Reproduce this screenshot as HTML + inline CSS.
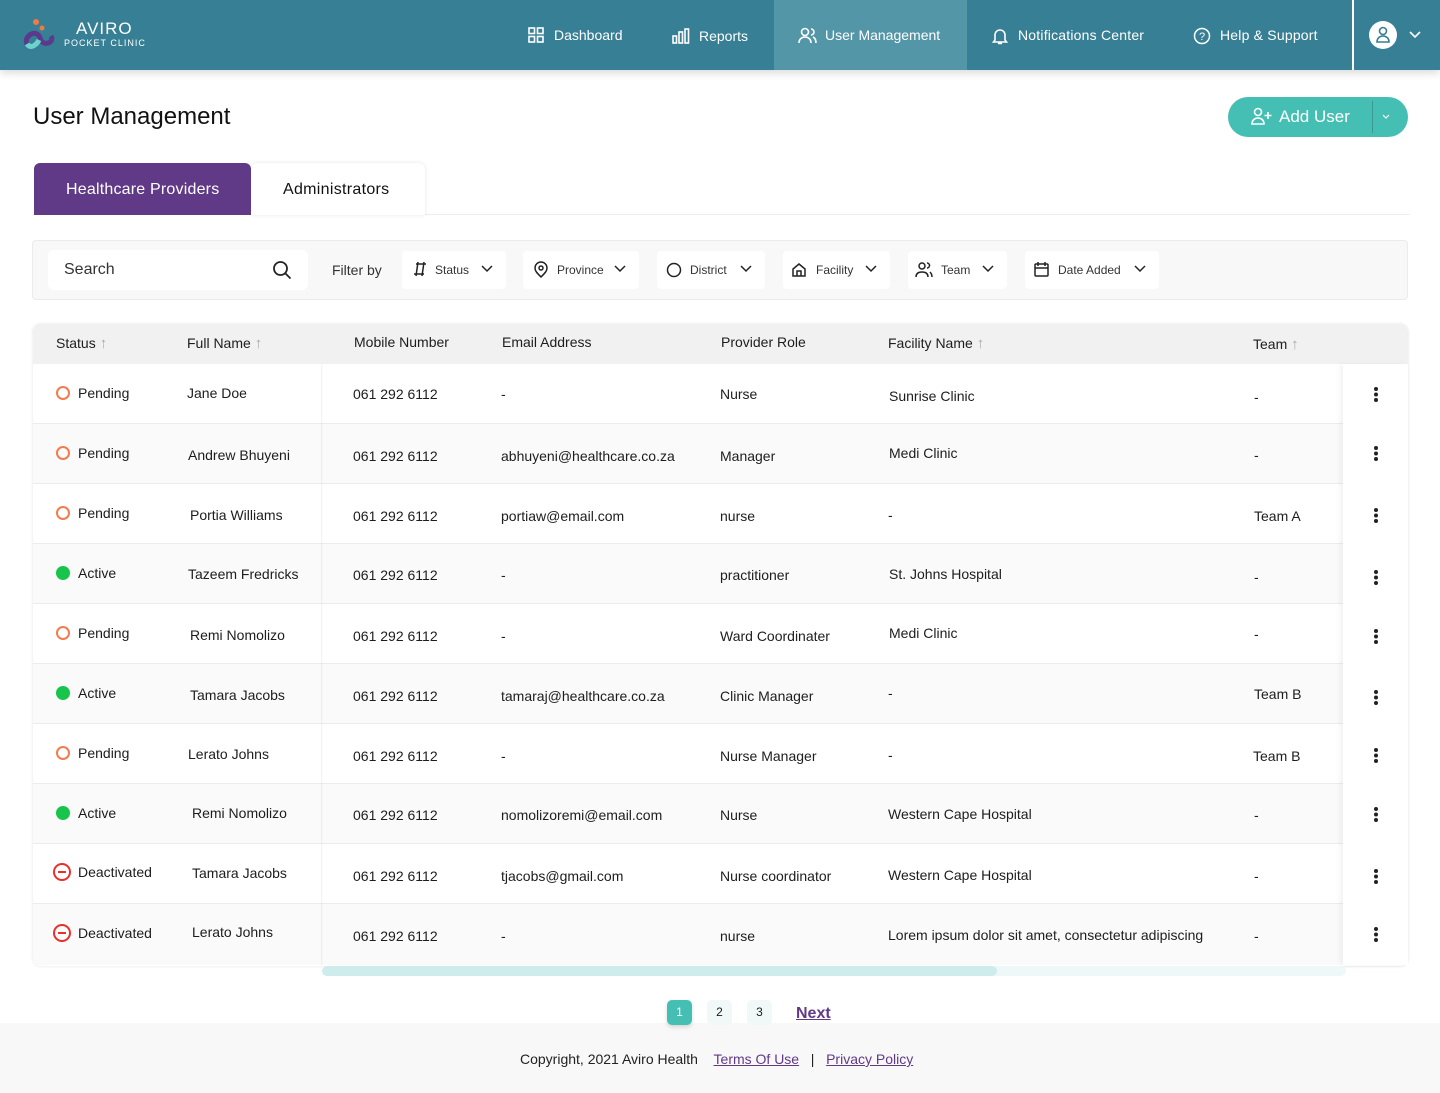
<!DOCTYPE html>
<html><head><meta charset="utf-8"><style>
*{margin:0;padding:0;box-sizing:border-box}
body{width:1440px;height:1093px;position:relative;background:#fff;font-family:"Liberation Sans",sans-serif;color:#1d1d1d;overflow:hidden}
.a{position:absolute;white-space:nowrap}
.nav{position:absolute;left:0;top:0;width:1440px;height:70px;background:#367f94;box-shadow:0 3px 8px rgba(0,0,0,.15)}
.nav .t{position:absolute;top:27px;color:#fff;font-size:14px}
.fb{position:absolute;top:251px;height:38px;background:#fff;border-radius:4px;font-size:12px;color:#333}
.row{position:absolute;left:33px;width:1375px;height:60px;border-bottom:1px solid #ececec}
.c{position:absolute;font-size:14px;white-space:nowrap;transform:translateY(-50%)}
.pg{position:absolute;top:1000px;width:25px;height:25px;border-radius:5px;font-size:12px;text-align:center;line-height:25px;background:#f0f8f8}
.ar{color:#aaa;font-size:15px}
</style></head><body>
<div class="nav">
  <svg class="a" style="left:23px;top:18px" width="34" height="32" viewBox="0 0 34 32"><path d="M4 26 C0 18 14 10 17 20 C20 30 32 24 28 18" stroke="#5b3a8c" stroke-width="5" fill="none"/><path d="M4 26 C8 32 14 26 16 22" stroke="#6fd3cd" stroke-width="5" fill="none"/><circle cx="13" cy="4" r="3" fill="#f07a45"/><circle cx="19" cy="10" r="2.5" fill="#f07a45"/></svg>
  <div class="a" style="left:76px;top:19px;color:#fff;font-size:17px;letter-spacing:1px">AVIRO</div>
  <div class="a" style="left:64px;top:38px;color:#fff;font-size:9px;letter-spacing:1px">POCKET CLINIC</div>
  <div class="a" style="left:774px;top:0;width:193px;height:70px;background:#5296a8"></div>
  <div class="a" style="left:1352px;top:0;width:2px;height:70px;background:#fff"></div>
  <svg class="a" style="left:528px;top:27px" width="16" height="16"><g fill="none" stroke="#fff" stroke-width="1.6"><rect x="1" y="1" width="5.5" height="5.5"/><rect x="9.5" y="1" width="5.5" height="5.5"/><rect x="1" y="9.5" width="5.5" height="5.5"/><rect x="9.5" y="9.5" width="5.5" height="5.5"/></g></svg>
  <div class="t" style="left:554px">Dashboard</div>
  <svg class="a" style="left:672px;top:28px" width="18" height="16"><g fill="none" stroke="#fff" stroke-width="1.6"><rect x="1" y="8" width="3.5" height="7"/><rect x="7" y="4" width="3.5" height="11"/><rect x="13" y="1" width="3.5" height="14"/></g></svg>
  <div class="t" style="left:699px;top:28px">Reports</div>
  <svg class="a" style="left:798px;top:27px" width="20" height="17"><g fill="none" stroke="#fff" stroke-width="1.6"><circle cx="7" cy="5" r="3.5"/><path d="M1 16c0-4 3-6 6-6s6 2 6 6M13 2a3 3 0 010 6M15 10c2 1 3 3 3 6"/></g></svg>
  <div class="t" style="left:825px">User Management</div>
  <svg class="a" style="left:991px;top:27px" width="18" height="18"><path d="M4 13V8a5 5 0 0110 0v5l1.5 2h-13zM7 16.5h4" fill="none" stroke="#fff" stroke-width="1.6"/></svg>
  <div class="t" style="left:1018px;letter-spacing:.2px">Notifications Center</div>
  <svg class="a" style="left:1193px;top:27px" width="18" height="18"><circle cx="9" cy="9" r="7.5" fill="none" stroke="#fff" stroke-width="1.5"/><text x="9" y="13" font-size="11" fill="#fff" text-anchor="middle" font-family="Liberation Sans">?</text></svg>
  <div class="t" style="left:1220px;letter-spacing:.2px">Help &amp; Support</div>
  <div class="a" style="left:1369px;top:21px;width:28px;height:28px;border-radius:50%;background:#fff"></div>
  <svg class="a" style="left:1375px;top:26px" width="16" height="18"><g fill="none" stroke="#367f94" stroke-width="1.6"><circle cx="8" cy="5" r="3.5"/><path d="M2 16c0-4 3-6 6-6s6 2 6 6z"/></g></svg>
  <svg class="a" style="left:1409px;top:31px" width="12" height="8"><path d="M1 1l5 5 5-5" fill="none" stroke="#fff" stroke-width="1.6"/></svg>
</div>

<div class="a" style="left:33px;top:103px;font-size:24px;color:#111">User Management</div>
<div class="a" style="left:1228px;top:97px;width:180px;height:40px;border-radius:20px;background:#45bfb4"></div>
<div class="a" style="left:1372px;top:101px;width:1px;height:32px;background:#3a9a93"></div>
<svg class="a" style="left:1251px;top:107px" width="22" height="18"><g fill="none" stroke="#fff" stroke-width="1.6"><circle cx="7" cy="5" r="3.5"/><path d="M1 17c0-4 3-6 6-6s6 2 6 6zM17 5v7M13.5 8.5h7"/></g></svg>
<div class="a" style="left:1279px;top:107px;font-size:17px;color:#fff">Add User</div>
<svg class="a" style="left:1382px;top:114px" width="8" height="6"><path d="M1 1l3 3 3-3" fill="none" stroke="#fff" stroke-width="1.2"/></svg>

<div class="a" style="left:33px;top:214px;width:1377px;height:1px;background:#eee"></div>
<div class="a" style="left:251px;top:163px;width:174px;height:52px;background:#fff;border-radius:6px 6px 0 0;box-shadow:0 0 4px rgba(0,0,0,.1)"></div>
<div class="a" style="left:34px;top:163px;width:217px;height:52px;background:#603a87;border-radius:6px 6px 0 0"></div>
<div class="a" style="left:66px;top:181px;font-size:16px;color:#fff;letter-spacing:.2px">Healthcare Providers</div>
<div class="a" style="left:283px;top:181px;font-size:16px;color:#111;letter-spacing:.3px">Administrators</div>

<div class="a" style="left:32px;top:240px;width:1376px;height:60px;background:#f8f8f8;border:1px solid #ebebeb;border-radius:4px"></div>
<div class="a" style="left:48px;top:250px;width:260px;height:40px;background:#fff;border-radius:6px"></div>
<div class="a" style="left:64px;top:261px;font-size:16px;color:#333">Search</div>
<svg class="a" style="left:272px;top:260px" width="20" height="20"><circle cx="8.5" cy="8.5" r="6.5" fill="none" stroke="#222" stroke-width="1.8"/><path d="M13.5 13.5l5 5" stroke="#222" stroke-width="1.8"/></svg>
<div class="a" style="left:332px;top:262px;font-size:14px;color:#333">Filter by</div>
<div class="fb" style="left:402px;width:104px"><span class="a" style="left:33px;top:12px">Status</span></div>
<div class="fb" style="left:523px;width:116px"><span class="a" style="left:34px;top:12px">Province</span></div>
<div class="fb" style="left:657px;width:108px"><span class="a" style="left:33px;top:12px">District</span></div>
<div class="fb" style="left:783px;width:107px"><span class="a" style="left:33px;top:12px">Facility</span></div>
<div class="fb" style="left:908px;width:99px"><span class="a" style="left:33px;top:12px">Team</span></div>
<div class="fb" style="left:1025px;width:134px"><span class="a" style="left:33px;top:12px">Date Added</span></div>
<svg class="a" style="left:0;top:0" width="1440" height="300"><g fill="none" stroke="#222" stroke-width="1.5">
<path d="M482 266l5 5 5-5M615 266l5 5 5-5M741 266l5 5 5-5M866 266l5 5 5-5M983 266l5 5 5-5M1135 266l5 5 5-5"/>
<path d="M416 264h10M414 274h10M418 262l-2 14M424 262l-2 14"/>
<path d="M541 277c-4-4-6-6-6-9a6 6 0 0112 0c0 3-2 5-6 9z"/><circle cx="541" cy="268" r="2"/>
<circle cx="674" cy="270" r="6.5"/>
<path d="M793 276v-7l6-5 6 5v7zM797 276v-5h4v5"/>
<circle cx="922" cy="266" r="3"/><path d="M916 277c0-4 3-5 6-5s6 1 6 5M927 263a2.5 2.5 0 010 5M930 272c1 1 2 3 2 5"/>
<rect x="1035" y="264" width="13" height="12" rx="1"/><path d="M1035 268h13M1038 262v4M1045 262v4"/>
</g></svg>

<div class="a" style="left:33px;top:324px;width:1375px;height:642px;border-radius:8px;box-shadow:0 0 3px rgba(0,0,0,.12);overflow:hidden;background:#fff">
  <div class="a" style="left:0;top:0;width:1375px;height:40px;background:#f1f1f1"></div>
</div>
<div class="a" style="top:335px;left:56px;font-size:14px">Status <span class="ar">↑</span></div>
<div class="a" style="top:335px;left:187px;font-size:14px">Full Name <span class="ar">↑</span></div>
<div class="a" style="top:334px;left:354px;font-size:14px">Mobile Number</div>
<div class="a" style="top:334px;left:502px;font-size:14px">Email Address</div>
<div class="a" style="top:334px;left:721px;font-size:14px">Provider Role</div>
<div class="a" style="top:335px;left:888px;font-size:14px">Facility Name <span class="ar">↑</span></div>
<div class="a" style="top:336px;left:1253px;font-size:14px">Team <span class="ar">↑</span></div>

<div class="row" style="top:364px;background:#fff"></div>
<div class="row" style="top:424px;background:#fafafa"></div>
<div class="row" style="top:484px;background:#fff"></div>
<div class="row" style="top:544px;background:#fafafa"></div>
<div class="row" style="top:604px;background:#fff"></div>
<div class="row" style="top:664px;background:#fafafa"></div>
<div class="row" style="top:724px;background:#fff"></div>
<div class="row" style="top:784px;background:#fafafa"></div>
<div class="row" style="top:844px;background:#fff"></div>
<div class="row" style="top:904px;background:#fafafa;border-bottom:none;height:61px"></div>
<div class="a" style="left:321px;top:364px;width:2px;height:601px;background:linear-gradient(90deg,rgba(0,0,0,.06),rgba(0,0,0,0))"></div>
<div class="a" style="left:1343px;top:364px;width:65px;height:601px;background:#fff;box-shadow:-3px 0 5px rgba(0,0,0,.05)"></div>

<svg class="a" style="left:0;top:0" width="1440" height="1000">
<g fill="none" stroke-width="2">
<circle cx="63" cy="393" r="6" stroke="#f47b4f"/>
<circle cx="63" cy="453" r="6" stroke="#f47b4f"/>
<circle cx="63" cy="513" r="6" stroke="#f47b4f"/>
<circle cx="63" cy="633" r="6" stroke="#f47b4f"/>
<circle cx="63" cy="753" r="6" stroke="#f47b4f"/>
<circle cx="62" cy="872" r="8" stroke="#e8302c"/><path d="M58 872h8" stroke="#e8302c"/>
<circle cx="62" cy="933" r="8" stroke="#e8302c"/><path d="M58 933h8" stroke="#e8302c"/>
</g>
<g fill="#19c44d"><circle cx="63" cy="573" r="7"/><circle cx="63" cy="693" r="7"/><circle cx="63" cy="813" r="7"/></g>
<g fill="#222">
<circle cx="1376" cy="389" r="2"/><circle cx="1376" cy="394.5" r="2"/><circle cx="1376" cy="400" r="2"/>
<circle cx="1376" cy="448" r="2"/><circle cx="1376" cy="453.5" r="2"/><circle cx="1376" cy="459" r="2"/>
<circle cx="1376" cy="510" r="2"/><circle cx="1376" cy="515.5" r="2"/><circle cx="1376" cy="521" r="2"/>
<circle cx="1376" cy="572" r="2"/><circle cx="1376" cy="577.5" r="2"/><circle cx="1376" cy="583" r="2"/>
<circle cx="1376" cy="631" r="2"/><circle cx="1376" cy="636.5" r="2"/><circle cx="1376" cy="642" r="2"/>
<circle cx="1376" cy="692" r="2"/><circle cx="1376" cy="697.5" r="2"/><circle cx="1376" cy="703" r="2"/>
<circle cx="1376" cy="750" r="2"/><circle cx="1376" cy="755.5" r="2"/><circle cx="1376" cy="761" r="2"/>
<circle cx="1376" cy="809" r="2"/><circle cx="1376" cy="814.5" r="2"/><circle cx="1376" cy="820" r="2"/>
<circle cx="1376" cy="871" r="2"/><circle cx="1376" cy="876.5" r="2"/><circle cx="1376" cy="882" r="2"/>
<circle cx="1376" cy="929" r="2"/><circle cx="1376" cy="934.5" r="2"/><circle cx="1376" cy="940" r="2"/>
</g>
</svg>

<div class="c" style="left:78px;top:393px">Pending</div><div class="c" style="left:187px;top:393px">Jane Doe</div><div class="c" style="left:353px;top:394px">061 292 6112</div><div class="c" style="left:501px;top:394px">-</div><div class="c" style="left:720px;top:394px">Nurse</div><div class="c" style="left:889px;top:396px">Sunrise Clinic</div><div class="c" style="left:1254px;top:397px">-</div>
<div class="c" style="left:78px;top:453px">Pending</div><div class="c" style="left:188px;top:455px">Andrew Bhuyeni</div><div class="c" style="left:353px;top:456px">061 292 6112</div><div class="c" style="left:501px;top:456px">abhuyeni@healthcare.co.za</div><div class="c" style="left:720px;top:456px">Manager</div><div class="c" style="left:889px;top:453px">Medi Clinic</div><div class="c" style="left:1254px;top:455px">-</div>
<div class="c" style="left:78px;top:513px">Pending</div><div class="c" style="left:190px;top:515px">Portia Williams</div><div class="c" style="left:353px;top:516px">061 292 6112</div><div class="c" style="left:501px;top:516px">portiaw@email.com</div><div class="c" style="left:720px;top:516px">nurse</div><div class="c" style="left:888px;top:515px">-</div><div class="c" style="left:1254px;top:516px">Team A</div>
<div class="c" style="left:78px;top:573px">Active</div><div class="c" style="left:188px;top:574px">Tazeem Fredricks</div><div class="c" style="left:353px;top:575px">061 292 6112</div><div class="c" style="left:501px;top:575px">-</div><div class="c" style="left:720px;top:575px">practitioner</div><div class="c" style="left:889px;top:574px">St. Johns Hospital</div><div class="c" style="left:1254px;top:577px">-</div>
<div class="c" style="left:78px;top:633px">Pending</div><div class="c" style="left:190px;top:635px">Remi Nomolizo</div><div class="c" style="left:353px;top:636px">061 292 6112</div><div class="c" style="left:501px;top:636px">-</div><div class="c" style="left:720px;top:636px">Ward Coordinater</div><div class="c" style="left:889px;top:633px">Medi Clinic</div><div class="c" style="left:1254px;top:634px">-</div>
<div class="c" style="left:78px;top:693px">Active</div><div class="c" style="left:190px;top:695px">Tamara Jacobs</div><div class="c" style="left:353px;top:696px">061 292 6112</div><div class="c" style="left:501px;top:696px">tamaraj@healthcare.co.za</div><div class="c" style="left:720px;top:696px">Clinic Manager</div><div class="c" style="left:888px;top:693px">-</div><div class="c" style="left:1254px;top:694px">Team B</div>
<div class="c" style="left:78px;top:753px">Pending</div><div class="c" style="left:188px;top:754px">Lerato Johns</div><div class="c" style="left:353px;top:756px">061 292 6112</div><div class="c" style="left:501px;top:756px">-</div><div class="c" style="left:720px;top:756px">Nurse Manager</div><div class="c" style="left:888px;top:755px">-</div><div class="c" style="left:1253px;top:756px">Team B</div>
<div class="c" style="left:78px;top:813px">Active</div><div class="c" style="left:192px;top:813px">Remi Nomolizo</div><div class="c" style="left:353px;top:815px">061 292 6112</div><div class="c" style="left:501px;top:815px">nomolizoremi@email.com</div><div class="c" style="left:720px;top:815px">Nurse</div><div class="c" style="left:888px;top:814px">Western Cape Hospital</div><div class="c" style="left:1254px;top:815px">-</div>
<div class="c" style="left:78px;top:872px">Deactivated</div><div class="c" style="left:192px;top:873px">Tamara Jacobs</div><div class="c" style="left:353px;top:876px">061 292 6112</div><div class="c" style="left:501px;top:876px">tjacobs@gmail.com</div><div class="c" style="left:720px;top:876px">Nurse coordinator</div><div class="c" style="left:888px;top:875px">Western Cape Hospital</div><div class="c" style="left:1254px;top:876px">-</div>
<div class="c" style="left:78px;top:933px">Deactivated</div><div class="c" style="left:192px;top:932px">Lerato Johns</div><div class="c" style="left:353px;top:936px">061 292 6112</div><div class="c" style="left:501px;top:936px">-</div><div class="c" style="left:720px;top:936px">nurse</div><div class="c" style="left:888px;top:935px">Lorem ipsum dolor sit amet, consectetur adipiscing</div><div class="c" style="left:1254px;top:936px">-</div>

<div class="a" style="left:322px;top:966px;width:1024px;height:10px;background:#eef8f8;border-radius:5px"></div>
<div class="a" style="left:322px;top:966px;width:675px;height:10px;background:#cdeceb;border-radius:5px"></div>

<div class="a" style="left:0;top:1023px;width:1440px;height:70px;background:#f8f8f8"></div>
<div class="pg" style="left:667px;background:#45bfb4;color:#fff;box-shadow:0 2px 4px rgba(0,0,0,.15)">1</div>
<div class="pg" style="left:707px">2</div>
<div class="pg" style="left:747px">3</div>
<div class="a" style="left:796px;top:1005px;font-size:16px;font-weight:bold;color:#603a87;text-decoration:underline">Next</div>
<div class="a" style="left:520px;top:1051px;font-size:14px;color:#222">Copyright, 2021 Aviro Health&nbsp;&nbsp;&nbsp;&nbsp;<span style="color:#603a87;text-decoration:underline">Terms Of Use</span>&nbsp;&nbsp;&nbsp;|&nbsp;&nbsp;&nbsp;<span style="color:#603a87;text-decoration:underline">Privacy Policy</span></div>
</body></html>
